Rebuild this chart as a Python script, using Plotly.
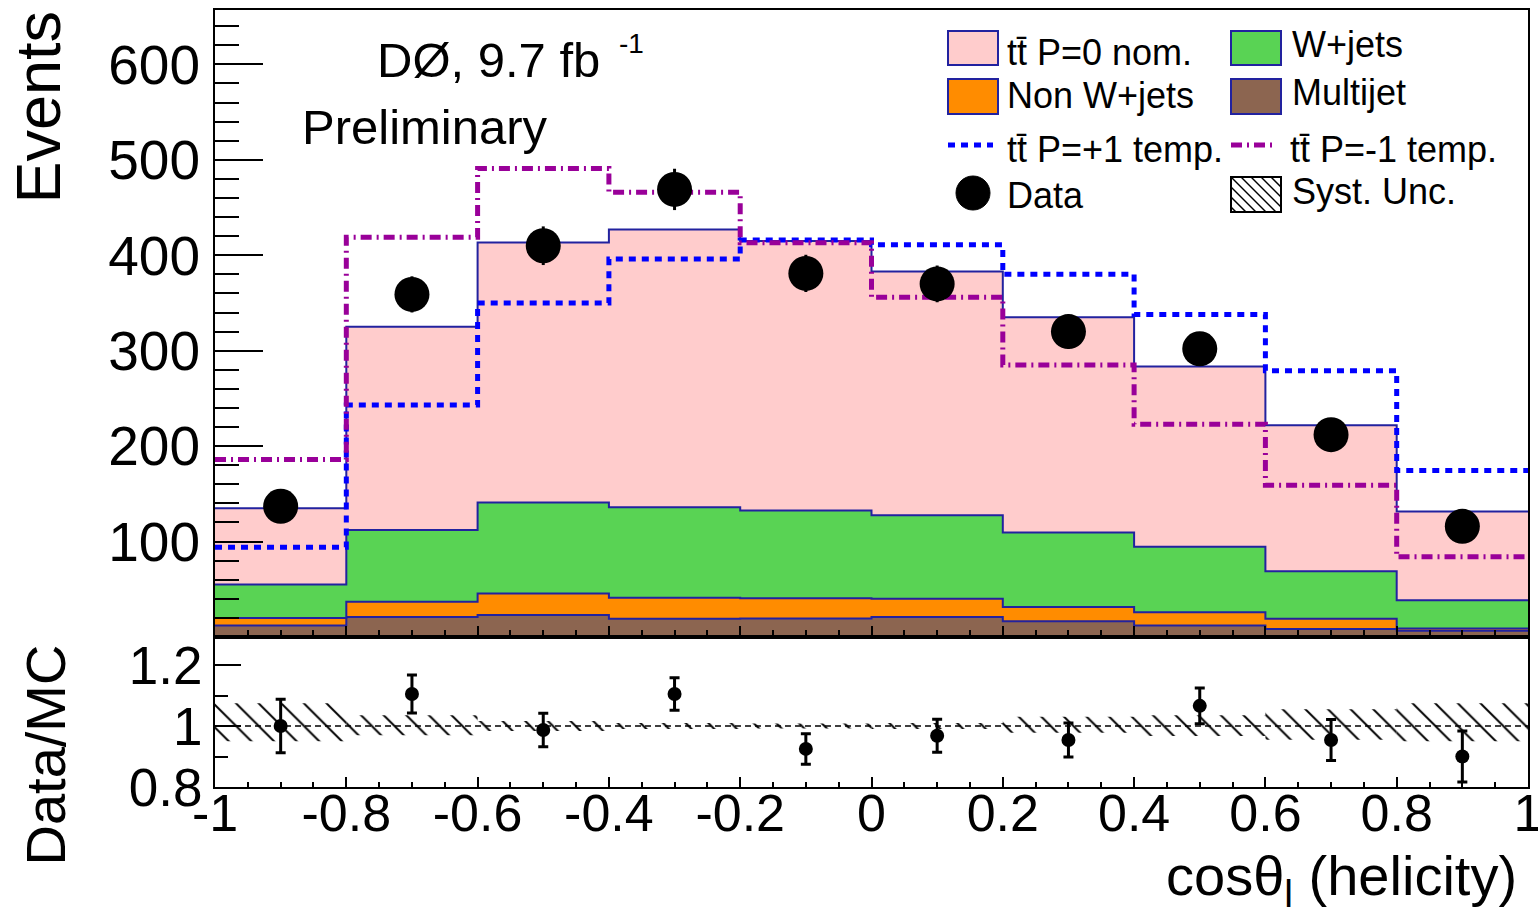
import numpy as np
import plotly.graph_objects as go

# ---------------- data ----------------
edges = [-1.0, -0.8, -0.6, -0.4, -0.2, 0.0, 0.2, 0.4, 0.6, 0.8, 1.0]
centers = [-0.9, -0.7, -0.5, -0.3, -0.1, 0.1, 0.3, 0.5, 0.7, 0.9]

multijet = [12, 21, 23, 19, 19.5, 21, 16.5, 12, 8.5, 6.5]
non_wjets = [8, 16, 22.5, 22, 21, 19, 15, 14, 10.5, 2.5]
wjets = [35, 75, 95.5, 95, 92, 87.5, 78, 68.5, 50, 29.5]
ttbar_p0 = [80, 213, 272.5, 291, 282.5, 255.5, 225.5, 189, 153, 93]

data = [137, 359, 410, 469, 381, 370, 320, 302, 212, 116]
ttbar_pplus = [94, 243, 350, 396, 416, 411, 380, 338, 279, 174.5]
ttbar_pminus = [186, 419, 491, 466, 413, 356, 285, 223, 159, 84]

ratio = [1.00, 1.105, 0.987, 1.105, 0.925, 0.968, 0.954, 1.066, 0.954, 0.90]
ratio_err = [0.088, 0.062, 0.055, 0.053, 0.05, 0.054, 0.056, 0.059, 0.067, 0.084]
syst_up = [0.075, 0.035, 0.016, 0.010, 0.008, 0.010, 0.030, 0.035, 0.055, 0.075]
syst_dn = [0.050, 0.030, 0.016, 0.010, 0.008, 0.010, 0.022, 0.033, 0.045, 0.050]

x_tickvals = [-1.0, -0.8, -0.6, -0.4, -0.2, 0.0, 0.2, 0.4, 0.6, 0.8, 1.0]
x_ticktext = ["-1", "-0.8", "-0.6", "-0.4", "-0.2", "0", "0.2", "0.4", "0.6", "0.8", "1"]
y_tickvals = [100, 200, 300, 400, 500, 600]
r_tickvals = [0.8, 1.0, 1.2]
r_ticktext = ["0.8", "1", "1.2"]

# ---------------- styling ----------------
FONT = "Liberation Sans, Arial, Helvetica, sans-serif"
PINK = "#FFCCCC"
GREEN = "#59D354"
ORANGE = "#FF8C00"
BROWN = "#8C6550"
OUTLINE = "#22229F"
BLUE = "#0000FF"
MAGENTA = "#990099"

W, H = 1538, 912
L, R, T, B = 215, 10, 10, 125
PW, PH = W - L - R, H - T - B
RATIO_BOTTOM, RATIO_TOP = 787, 637
split = (RATIO_BOTTOM - RATIO_TOP) / PH
EPS = 1e-5


def px(X):
    return (X - L) / PW


def py(Y):
    return (RATIO_BOTTOM - Y) / PH


def step(v):
    return list(v) + [v[-1]]


c1 = np.array(multijet, dtype=float)
c2 = c1 + np.array(non_wjets)
c3 = c2 + np.array(wjets)
c4 = c3 + np.array(ttbar_p0)

fig = go.Figure()

stack = [(c1, BROWN, "tozeroy"), (c2, ORANGE, "tonexty"),
         (c3, GREEN, "tonexty"), (c4, PINK, "tonexty")]
for vals, col, fill in stack:
    fig.add_trace(go.Scatter(
        x=edges, y=step(vals.tolist()), mode="lines", line_shape="hv",
        line=dict(color=OUTLINE, width=2), fill=fill, fillcolor=col,
        xaxis="x", yaxis="y", hoverinfo="skip"))

fig.add_trace(go.Scatter(
    x=edges, y=step(ttbar_pplus), mode="lines", line_shape="hv",
    line=dict(color=BLUE, width=5, dash="7px,6px"), xaxis="x", yaxis="y"))
fig.add_trace(go.Scatter(
    x=edges, y=step(ttbar_pminus), mode="lines", line_shape="hv",
    line=dict(color=MAGENTA, width=5, dash="11px,5px,2px,5px"), xaxis="x", yaxis="y"))

fig.add_trace(go.Scatter(
    x=centers, y=data, mode="markers",
    marker=dict(color="black", size=35),
    error_y=dict(type="data", array=np.sqrt(data).tolist(), color="black",
                 thickness=3, width=0),
    xaxis="x", yaxis="y"))

# ratio panel
fig.add_trace(go.Bar(
    x=centers, y=[u + d for u, d in zip(syst_up, syst_dn)],
    base=[1 - d for d in syst_dn], width=0.2,
    marker=dict(color="rgba(0,0,0,0)", line=dict(width=0),
                pattern=dict(shape="\\", fgcolor="black", bgcolor="rgba(0,0,0,0)",
                             fgopacity=1, size=16, solidity=0.12, fillmode="overlay")),
    xaxis="x2", yaxis="y2"))

fig.add_trace(go.Scatter(
    x=[-1, 1], y=[1, 1], mode="lines",
    line=dict(color="black", width=1.5, dash="6px,4px"),
    xaxis="x2", yaxis="y2"))

fig.add_trace(go.Scatter(
    x=centers, y=ratio, mode="markers",
    marker=dict(color="black", size=14),
    error_y=dict(type="data", array=ratio_err, color="black", thickness=3, width=5),
    xaxis="x2", yaxis="y2"))

axis_common = dict(showline=True, linecolor="black", linewidth=2, mirror=True,
                   showgrid=False, zeroline=False, ticks="inside", tickcolor="black",
                   tickwidth=1.5, layer="above traces", ticklabeloverflow="allow")

fig.update_layout(
    width=W, height=H, margin=dict(l=L, r=R, t=T, b=B, autoexpand=False),
    paper_bgcolor="white", plot_bgcolor="white", showlegend=False,
    font=dict(family=FONT, color="black"),
    xaxis=dict(**axis_common, domain=[0, 1], range=[-1 - EPS, 1 + EPS], anchor="y",
               tickvals=x_tickvals, ticktext=x_ticktext, showticklabels=False,
               ticklen=11, minor=dict(dtick=0.05, ticklen=7, ticks="inside",
                                      tickcolor="black", tickwidth=1.5)),
    yaxis=dict(**axis_common, domain=[split, 1], range=[0, 657], anchor="x",
               tickvals=y_tickvals, ticklen=48, ticklabelstandoff=2,
               tickfont=dict(family=FONT, size=55, color="black"),
               minor=dict(dtick=20, ticklen=24, ticks="inside",
                          tickcolor="black", tickwidth=1.5)),
    xaxis2=dict(**axis_common, domain=[0, 1], range=[-1 - EPS, 1 + EPS], anchor="y2",
                tickvals=x_tickvals, ticktext=x_ticktext, ticklen=10,
                ticklabelstandoff=-20,
                tickfont=dict(family=FONT, size=52, color="black"),
                minor=dict(dtick=0.05, ticklen=5, ticks="inside",
                           tickcolor="black", tickwidth=1.5)),
    yaxis2=dict(**axis_common, domain=[0, split], range=[0.8, 0.8 + 150 / 305], anchor="x2",
                tickvals=r_tickvals, ticktext=r_ticktext, ticklen=26, ticklabelstandoff=0,
                tickfont=dict(family=FONT, size=53, color="black"),
                minor=dict(dtick=0.1, ticklen=13, ticks="inside",
                           tickcolor="black", tickwidth=1.5)),
)

# ---------------- texts ----------------
ann = []


def text(s, X, Y, size, xanchor="left", yanchor="middle", angle=0):
    ann.append(dict(text=s, x=px(X), y=py(Y), xref="paper", yref="paper",
                    xanchor=xanchor, yanchor=yanchor, showarrow=False, textangle=angle,
                    font=dict(family=FONT, size=size, color="black")))


text("DØ, 9.7 fb", 375, 60, 49)
text("-1", 617, 43, 28)
text("Preliminary", 300, 127, 49)
text("Events", 38, 8, 63, xanchor="center", yanchor="top", angle=-90)
text("Data/MC", 45, 643, 56, xanchor="center", yanchor="top", angle=-90)
text("cosθ<sub>l</sub> (helicity)", 1519, 917, 56, xanchor="right", yanchor="bottom")

# legend
text("tt̄ P=0 nom.", 1005, 52, 36)
text("W+jets", 1290, 45, 36)
text("Non W+jets", 1005, 96, 36)
text("Multijet", 1290, 93, 36)
text("tt̄ P=+1 temp.", 1005, 149, 36)
text("tt̄ P=-1 temp.", 1288, 149, 36)
text("Data", 1005, 195, 36)
text("Syst. Unc.", 1290, 191, 36)

shapes = []


def rect(x0, y0, x1, y1, fill, line=OUTLINE, lw=2):
    shapes.append(dict(type="rect", xref="paper", yref="paper",
                       x0=px(x0), x1=px(x1), y0=py(y0), y1=py(y1),
                       fillcolor=fill, line=dict(color=line, width=lw)))


rect(948, 31, 998, 65, PINK)
rect(1231, 31, 1281, 65, GREEN)
rect(948, 79, 998, 114, ORANGE)
rect(1231, 79, 1281, 114, BROWN)
shapes.append(dict(type="line", xref="paper", yref="paper",
                   x0=px(948), x1=px(993), y0=py(145), y1=py(145),
                   line=dict(color=BLUE, width=5, dash="7px,6px")))
shapes.append(dict(type="line", xref="paper", yref="paper",
                   x0=px(1231), x1=px(1277), y0=py(145), y1=py(145),
                   line=dict(color=MAGENTA, width=5, dash="11px,5px,2px,5px")))
shapes.append(dict(type="circle", xref="paper", yref="paper",
                   x0=px(956), x1=px(990), y0=py(176), y1=py(210),
                   fillcolor="black", line=dict(color="black", width=1)))
# hatched legend box
hx0, hy0, hx1, hy1 = 1231, 177, 1281, 212
rect(hx0, hy0, hx1, hy1, "white", line="black", lw=2)
for c in range(-30, 56, 10):
    pts = []
    for X in (hx0, hx1):
        Y = hy0 + (X - hx0) - c
        if hy0 <= Y <= hy1:
            pts.append((X, Y))
    for Y in (hy0, hy1):
        X = hx0 + (Y - hy0) + c
        if hx0 <= X <= hx1:
            pts.append((X, Y))
    pts = sorted(set(pts))
    if len(pts) >= 2:
        (xa, ya), (xb, yb) = pts[0], pts[-1]
        shapes.append(dict(type="line", xref="paper", yref="paper",
                           x0=px(xa), x1=px(xb), y0=py(ya), y1=py(yb),
                           line=dict(color="black", width=1.5)))

fig.update_layout(annotations=ann, shapes=shapes)
fig.write_html("out.html")
